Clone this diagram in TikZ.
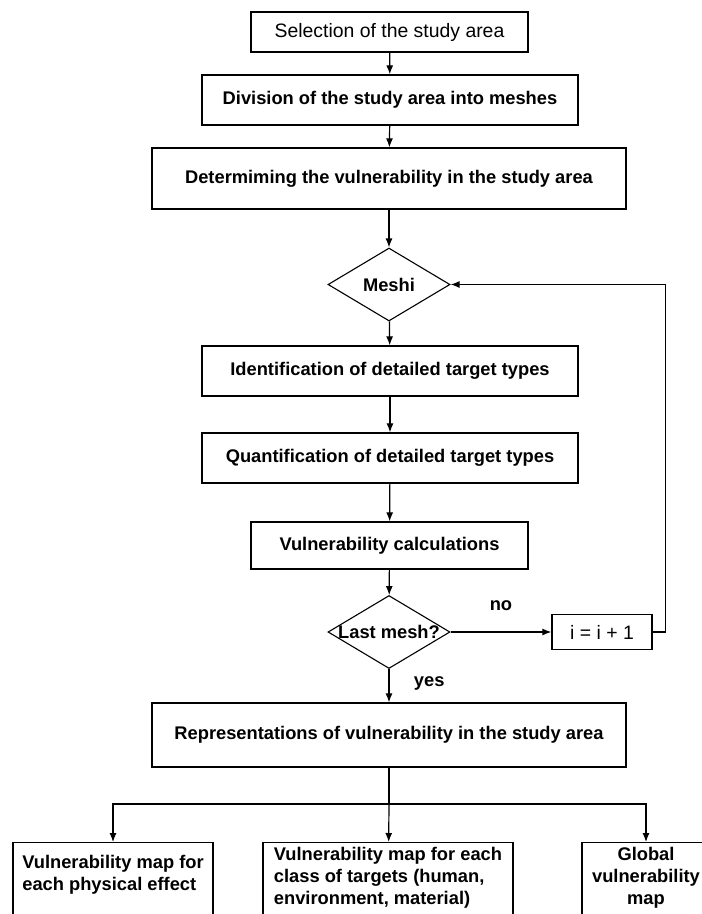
\documentclass[tikz,border=0pt]{standalone}
\usepackage{fontspec}
\setmainfont{Liberation Sans}
\usetikzlibrary{shapes.geometric, arrows.meta}

\newcommand{\boldtxt}{\fontsize{18.3}{22}\selectfont\bfseries}
\newcommand{\plaintxt}{\fontsize{19.4}{23}\selectfont}

\begin{document}
\begin{tikzpicture}[x=1pt, y=-1pt,
  box/.style={draw, line width=1.3pt, inner sep=0pt, font=\boldtxt},
  decision/.style={draw, diamond, line width=1.1pt, minimum width=122pt, minimum height=73pt, inner sep=0pt, font=\boldtxt},
  mapbox/.style={draw, line width=1.3pt, anchor=north, align=left, inner xsep=9pt, text depth=90pt, font=\boldtxt},
  flow/.style={-{Latex[length=9pt, width=7pt]}, line width=1.2pt},
  lbl/.style={font=\boldtxt}]
  \useasboundingbox (0,0) rectangle (702,914);

  % Steps down the main column
  \node[box, font=\plaintxt, minimum width=277pt, minimum height=40pt] (sel) at (389.5,32) {Selection of the study area};
  \node[box, minimum width=376pt, minimum height=50pt] (div) at (390,100) {Division of the study area into meshes};
  \node[box, minimum width=474pt, minimum height=61pt] (det) at (389,178.5) {Determiming the vulnerability in the study area};
  \node[decision] (meshi) at (389,284.5) {\makebox[0pt]{Meshi}};
  \node[box, minimum width=376pt, minimum height=50pt] (ident) at (390,371) {Identification of detailed target types};
  \node[box, minimum width=376pt, minimum height=50pt] (quant) at (390,458) {Quantification of detailed target types};
  \node[box, minimum width=277pt, minimum height=47pt] (calc) at (389.5,545.5) {Vulnerability calculations};
  \node[decision] (last) at (389,632) {\makebox[0pt]{Last mesh?}};
  \node[box, font=\plaintxt, minimum width=100pt, minimum height=35pt] (incr) at (602,632) {i = i + 1};
  \node[box, minimum width=474pt, minimum height=64pt] (repr) at (389,735) {Representations of vulnerability in the study area};

  % Maps
  \node[mapbox, minimum width=200pt, inner ysep=13pt] (mapA) at (113,842) {Vulnerability map for\\each physical effect};
  \node[mapbox, minimum width=250pt, inner ysep=5pt] (mapB) at (388,842) {Vulnerability map for each\\class of targets (human,\\environment, material)};
  \node[mapbox, align=center, minimum width=128pt, inner ysep=5pt] (mapC) at (646,842) {Global\\vulnerability\\map};

  % Arrows
  \draw[flow] (sel) -- (div);
  \draw[flow] (div) -- (det);
  \draw[flow] (det) -- (meshi);
  \draw[flow] (meshi) -- (ident);
  \draw[flow] (ident) -- (quant);
  \draw[flow] (quant) -- (calc);
  \draw[flow] (calc) -- (last);
  \draw[flow] (last.east) -- node[lbl, above=17pt] {no} (incr.west);
  \draw[flow] (incr.east) -- ++(13,0) |- (meshi.east);
  \draw[flow] (last) -- node[lbl, pos=0.42, right=21pt] {yes} (repr);

  % Split to the maps
  \coordinate (split) at (389,804);
  \draw[line width=1.2pt] (repr) -- (split);
  \draw[flow] (split) -| (mapA);
  \draw[flow] (split) -- (mapB);
  \draw[flow] (split) -| (mapC);
\end{tikzpicture}
\end{document}
